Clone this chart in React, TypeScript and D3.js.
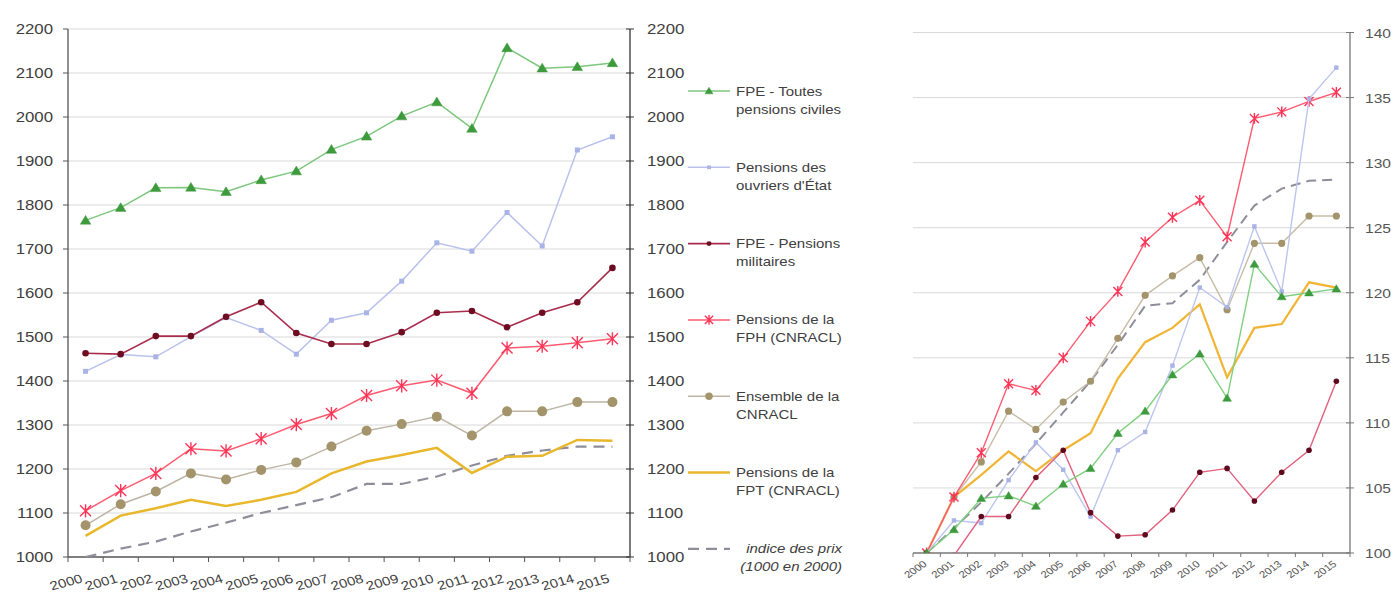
import React from "react";
import * as d3 from "d3";

const years = ["2000","2001","2002","2003","2004","2005","2006","2007","2008","2009","2010","2011","2012","2013","2014","2015"];

// Left panel: euros
const civiles = [1765,1794,1839,1840,1830,1857,1877,1926,1956,2002,2034,1974,2157,2111,2114,2123];
const ouvriers = [1422,1460,1455,1501,1544,1515,1461,1538,1555,1627,1714,1695,1783,1707,1925,1955];
const militaires = [1463,1461,1502,1502,1546,1579,1509,1484,1484,1511,1555,1559,1522,1555,1579,1657];
const fph = [1105,1151,1190,1246,1241,1269,1301,1326,1367,1389,1402,1372,1475,1479,1487,1496];
const cnracl = [1072,1120,1149,1190,1176,1198,1215,1251,1287,1302,1319,1276,1331,1331,1352,1352];
const fpt = [1048,1094,1111,1130,1116,1130,1148,1190,1217,1232,1248,1191,1228,1230,1266,1264];
const prix = [1000,1019,1035,1058,1078,1100,1118,1136,1166,1166,1183,1208,1230,1242,1251,1251];

// Right panel: index base 100 in 2000
const civilesIdx = [100,101.8,104.2,104.4,103.6,105.3,106.5,109.2,110.9,113.7,115.3,111.9,122.2,119.7,120.0,120.3];
const ouvriersIdx = [100,102.5,102.3,105.6,108.5,106.4,102.8,107.9,109.3,114.4,120.4,118.9,125.1,120.1,134.9,137.3];
const militairesIdx = [100,99.8,102.8,102.8,105.8,107.9,103.1,101.3,101.4,103.3,106.2,106.5,104.0,106.2,107.9,113.2];
const fphIdx = [100,104.3,107.7,113.0,112.5,115.0,117.8,120.1,123.9,125.8,127.1,124.3,133.4,133.9,134.7,135.4];
const cnraclIdx = [100,104.3,107.0,110.9,109.5,111.6,113.2,116.5,119.8,121.3,122.7,118.7,123.8,123.8,125.9,125.9];
const fptIdx = [100,104.3,106.0,107.8,106.3,107.9,109.2,113.4,116.2,117.3,119.1,113.5,117.3,117.6,120.8,120.4];
const prixIdx = [100,101.9,103.9,106.1,108.4,110.8,113.2,116.0,119.0,119.2,121.0,123.9,126.7,128.0,128.6,128.7];

const leftTicks = [1000,1100,1200,1300,1400,1500,1600,1700,1800,1900,2000,2100,2200];
const rightTicks = [100,105,110,115,120,125,130,135,140];

const legendLabels = [
  ["FPE - Toutes", "pensions civiles"],
  ["Pensions des", "ouvriers d'État"],
  ["FPE - Pensions", "militaires"],
  ["Pensions de la", "FPH (CNRACL)"],
  ["Ensemble de la", "CNRACL"],
  ["Pensions de la", "FPT (CNRACL)"],
  ["indice des prix", "(1000 en 2000)"],
];

type Style = { line: string; mark: string; marker: string; width: number; dash?: string; size: number };

const styles: Style[] = [
  { line: "#7cc77c", mark: "#3d9a3d", marker: "tri", width: 1.5, size: 5 },
  { line: "#b9c1ec", mark: "#a9b3e6", marker: "sq", width: 1.5, size: 2.5 },
  { line: "#a82c4c", mark: "#6e0c22", marker: "circle", width: 1.6, size: 3.3 },
  { line: "#ff5a70", mark: "#ff3355", marker: "star", width: 1.5, size: 5.5 },
  { line: "#bdb4a4", mark: "#a3946c", marker: "circle", width: 1.5, size: 5 },
  { line: "#e8b72c", mark: "#e8b72c", marker: "none", width: 2.5, size: 0 },
  { line: "#8e8e9a", mark: "#8e8e9a", marker: "none", width: 2.2, dash: "11,7", size: 0 },
];

const rightStyles: Style[] = [
  { line: "#80d080", mark: "#3d9a3d", marker: "tri", width: 1.4, size: 4.2 },
  { line: "#bcc4f0", mark: "#a9b3e6", marker: "sq", width: 1.4, size: 2.2 },
  { line: "#e2607e", mark: "#5e0a1c", marker: "circle", width: 1.4, size: 2.8 },
  { line: "#ff5a70", mark: "#ff3355", marker: "star", width: 1.4, size: 4.5 },
  { line: "#c8bca6", mark: "#a3946c", marker: "circle", width: 1.4, size: 3.6 },
  { line: "#f0b535", mark: "#f0b535", marker: "none", width: 2.2, size: 0 },
  { line: "#8e8e9a", mark: "#8e8e9a", marker: "none", width: 2, dash: "10,6", size: 0 },
];

const leftSeries = [civiles, ouvriers, militaires, fph, cnracl, fpt, prix];
const rightSeries = [civilesIdx, ouvriersIdx, militairesIdx, fphIdx, cnraclIdx, fptIdx, prixIdx];

const TXT = "#404040";
const FONT = "'Liberation Sans', Arial, sans-serif";
const SX = 1.2;

function Marker({ x, y, s }: { x: number; y: number; s: Style }) {
  const r = s.size;
  if (s.marker === "tri") {
    const p = `M${x},${y - r}L${x + r * 1.05},${y + r * 0.75}L${x - r * 1.05},${y + r * 0.75}Z`;
    return <path d={p} fill={s.mark} stroke={s.mark} strokeWidth={0.5} />;
  }
  if (s.marker === "circle") return <circle cx={x} cy={y} r={r} fill={s.mark} />;
  if (s.marker === "sq") return <rect x={x - r} y={y - r} width={2 * r} height={2 * r} fill={s.mark} />;
  if (s.marker === "star") {
    const p = `M${x - r},${y - r}L${x + r},${y + r}M${x - r},${y + r}L${x + r},${y - r}M${x},${y - r * 1.2}L${x},${y + r * 1.2}`;
    return <path d={p} stroke={s.mark} strokeWidth={1.4} fill="none" />;
  }
  return null;
}

function Txt({ x, y, children, anchor = "start", size = 13, angle = 0, italic = false, fill = TXT }: any) {
  return (
    <g transform={`translate(${x},${y})`}>
      <g transform={`scale(${SX},1)`}>
        <text
          transform={`rotate(${angle})`}
          textAnchor={anchor}
          fontSize={size}
          fontFamily={FONT}
          fontStyle={italic ? "italic" : "normal"}
          fill={fill}
        >
          {children}
        </text>
      </g>
    </g>
  );
}

export default function App() {
  const xL = d3.scaleBand<string>().domain(years).range([68, 630]);
  const yL = d3.scaleLinear().domain([1000, 2200]).range([557, 29]);
  const xR = d3.scaleBand<string>().domain(years).range([913, 1350]);
  const yR = d3.scaleLinear().domain([100, 140]).range([553, 32.5]);

  const cxL = (i: number) => (xL(years[i]) as number) + xL.bandwidth() / 2;
  const cxR = (i: number) => (xR(years[i]) as number) + xR.bandwidth() / 2;

  const lineL = (vals: number[]) =>
    d3.line<number>().x((_, i) => cxL(i)).y((v) => yL(v))(vals) as string;
  const lineR = (vals: number[]) =>
    d3.line<number>().x((_, i) => cxR(i)).y((v) => yR(v))(vals) as string;

  const boundariesL = years.map((y) => xL(y) as number).concat([630]);
  const boundariesR = years.map((y) => xR(y) as number).concat([1350]);

  const drawOrder = [6, 5, 4, 3, 1, 2, 0];

  return (
    <svg
      width={1391}
      height={595}
      style={{ position: "absolute", left: 0, top: 0, background: "#fff" }}
    >
      <defs>
        <clipPath id="clipR">
          <rect x={905} y={20} width={450} height={533} />
        </clipPath>
      </defs>
      <rect x={0} y={0} width={1391} height={595} fill="#fff" />

      {/* ===== Left panel ===== */}
      {leftTicks.slice(1).map((t) => (
        <line key={"gl" + t} x1={68} x2={630} y1={yL(t)} y2={yL(t)} stroke="#d9d9d9" strokeWidth={1} />
      ))}
      <line x1={68} x2={68} y1={29} y2={557} stroke="#555" strokeWidth={1.3} />
      <line x1={630} x2={630} y1={29} y2={557} stroke="#333" strokeWidth={1.3} />
      <line x1={68} x2={630} y1={557} y2={557} stroke="#555" strokeWidth={1.3} />
      {leftTicks.map((t) => (
        <g key={"tl" + t}>
          <line x1={63} x2={68} y1={yL(t)} y2={yL(t)} stroke="#555" />
          <line x1={626} x2={634} y1={yL(t)} y2={yL(t)} stroke="#333" />
          <Txt x={53} y={yL(t) + 5} anchor="end" size={14}>{t}</Txt>
          <Txt x={647} y={yL(t) + 5} anchor="start" size={14}>{t}</Txt>
        </g>
      ))}
      {boundariesL.map((b, i) => (
        <line key={"bl" + i} x1={b} x2={b} y1={557} y2={562} stroke="#555" />
      ))}
      {years.map((y, i) => (
        <Txt key={"xl" + y} x={cxL(i) - 2} y={582} anchor="end" size={12.5} angle={-18}>
          {y}
        </Txt>
      ))}

      {drawOrder.map((k) => (
        <g key={"sl" + k}>
          <path
            d={lineL(leftSeries[k])}
            fill="none"
            stroke={styles[k].line}
            strokeWidth={styles[k].width}
            strokeDasharray={styles[k].dash}
          />
          {leftSeries[k].map((v, i) => (
            <Marker key={i} x={cxL(i)} y={yL(v)} s={styles[k]} />
          ))}
        </g>
      ))}

      {/* Legend */}
      {legendLabels.map((lab, k) => {
        const y0 = 91 + k * 76.3;
        const s = styles[k];
        const isPrix = k === 6;
        return (
          <g key={"lg" + k}>
            <line x1={688} x2={730} y1={y0} y2={y0} stroke={s.line} strokeWidth={s.width} strokeDasharray={s.dash} />
            <Marker x={709} y={y0} s={{ ...s, size: s.size * 0.75 }} />
            {isPrix ? (
              <>
                <Txt x={842} y={y0 + 4.5} anchor="end" size={12.5} italic>{lab[0]}</Txt>
                <Txt x={842} y={y0 + 22.5} anchor="end" size={12.5} italic>{lab[1]}</Txt>
              </>
            ) : (
              <>
                <Txt x={736} y={y0 + 4.5} size={12.5}>{lab[0]}</Txt>
                <Txt x={736} y={y0 + 22.5} size={12.5}>{lab[1]}</Txt>
              </>
            )}
          </g>
        );
      })}

      {/* ===== Right panel ===== */}
      {rightTicks.slice(1).map((t) => (
        <line key={"gr" + t} x1={913} x2={1350} y1={yR(t)} y2={yR(t)} stroke="#d9d9d9" strokeWidth={1} />
      ))}
      <line x1={1350} x2={1350} y1={32.5} y2={553} stroke="#777" strokeWidth={1.3} />
      <line x1={913} x2={1350} y1={553} y2={553} stroke="#777" strokeWidth={1.3} />
      {rightTicks.map((t) => (
        <g key={"tr" + t}>
          <line x1={1346} x2={1354} y1={yR(t)} y2={yR(t)} stroke="#777" />
          <Txt x={1365} y={yR(t) + 5} size={13} fill="#555">{t}</Txt>
        </g>
      ))}
      {boundariesR.map((b, i) => (
        <line key={"br" + i} x1={b} x2={b} y1={553} y2={557} stroke="#777" />
      ))}
      {years.map((y, i) => (
        <Txt key={"xr" + y} x={cxR(i) + 1} y={565} anchor="end" size={9.5} angle={-40} fill="#555">
          {y}
        </Txt>
      ))}
      <g clipPath="url(#clipR)">
        {drawOrder.map((k) => (
          <g key={"sr" + k}>
            <path
              d={lineR(rightSeries[k])}
              fill="none"
              stroke={rightStyles[k].line}
              strokeWidth={rightStyles[k].width}
              strokeDasharray={rightStyles[k].dash}
            />
            {rightSeries[k].map((v, i) => (
              <Marker key={i} x={cxR(i)} y={yR(v)} s={rightStyles[k]} />
            ))}
          </g>
        ))}
      </g>
    </svg>
  );
}
